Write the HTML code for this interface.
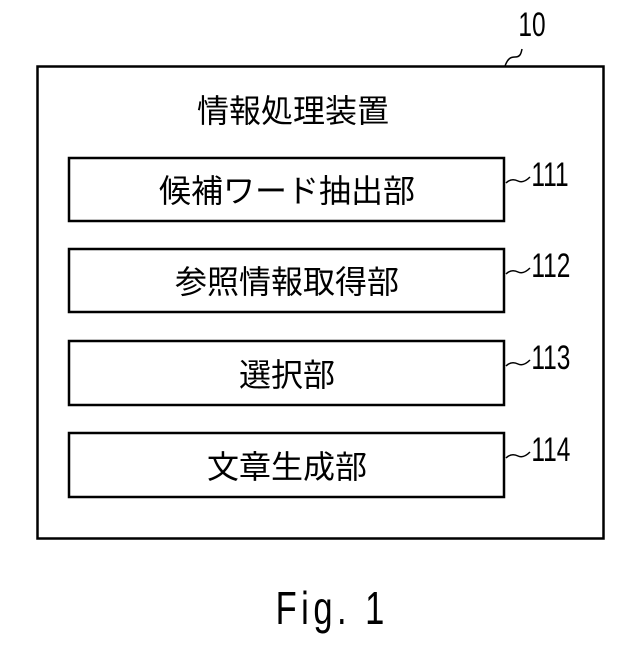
<!DOCTYPE html>
<html><head><meta charset="utf-8"><style>
body{margin:0;background:#fff;width:640px;height:640px;overflow:hidden}
</style></head><body>
<svg width="640" height="640" xmlns="http://www.w3.org/2000/svg" font-family="'Liberation Sans','Noto Sans CJK JP',sans-serif">
<rect x="37.5" y="66.5" width="566" height="472" fill="none" stroke="#000" stroke-width="2.5"/>
<text x="293" y="122" font-size="32" text-anchor="middle">情報処理装置</text>
<g fill="none" stroke="#000" stroke-width="2.5">
<rect x="69" y="158" width="435" height="63"/>
<rect x="69" y="249" width="435" height="63"/>
<rect x="69" y="341" width="435" height="64"/>
<rect x="69" y="433" width="435" height="64"/>
</g>
<g font-size="32" text-anchor="middle">
<text x="287" y="202">候補ワード抽出部</text>
<text x="287" y="293">参照情報取得部</text>
<text x="287" y="386">選択部</text>
<text x="287" y="478">文章生成部</text>
</g>
<g fill="none" stroke="#000" stroke-width="1.5">
<path d="M505,66 C508,58 511,57 515,57 C520,57 521,54 522,49"/>
<path d="M506,183 C510,179 514,179 518,181 C522,183 526,181 530,177"/>
<path d="M506,274 C510,270 514,270 518,272 C522,274 526,272 530,268"/>
<path d="M506,366 C510,362 514,362 518,364 C522,366 526,364 530,360"/>
<path d="M506,458 C510,454 514,454 518,456 C522,458 526,456 530,452"/>
</g>
<g font-size="34" transform="scale(0.72,1)">
<text x="720" y="36">10</text>
<text x="738" y="186">111</text>
<text x="738" y="277">112</text>
<text x="738" y="369">113</text>
<text x="738" y="461">114</text>
</g>
<text transform="scale(0.75,1)" x="443" y="624" font-size="46" text-anchor="middle" letter-spacing="6">Fig. 1</text>
</svg>
</body></html>
